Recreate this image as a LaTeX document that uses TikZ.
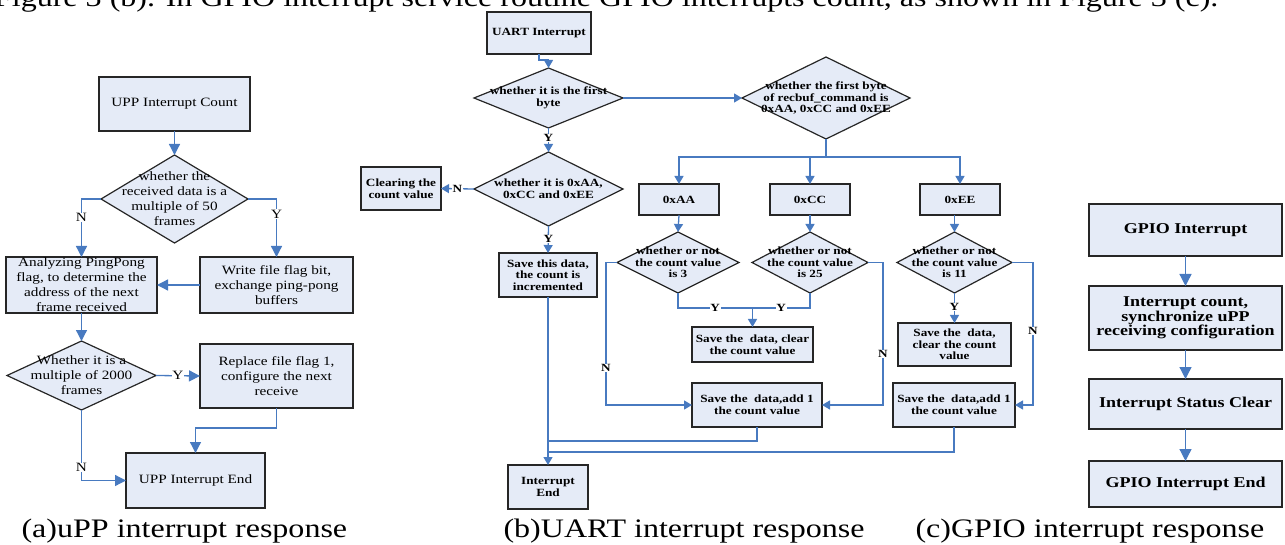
\documentclass[tikz,border=0pt]{standalone}
\usepackage{fontspec}
\setmainfont{Liberation Serif}[FakeStretch=1.2]
\usepackage{tikz}
\usetikzlibrary{arrows.meta, shapes.geometric, calc}

\definecolor{boxfill}{RGB}{229,235,247}
\definecolor{linkblue}{RGB}{72,122,192}

\begin{document}
\begin{tikzpicture}[x=1pt, y=-1pt,
    blk/.style={draw=black!85, line width=1.2pt, fill=boxfill, align=center, inner sep=0pt, outer sep=0pt},
    dec/.style={blk, diamond, inner xsep=-90pt, inner ysep=-45pt},
    sz/.style 2 args={minimum width=#1, minimum height=#2},
    fa/.style={font=\fontsize{12.7}{15}\selectfont},
    fb/.style={font=\fontsize{11}{11.7}\selectfont\bfseries},
    fc/.style={font=\fontsize{15}{14.5}\selectfont\bfseries},
    link/.style={draw=linkblue, line width=1.3pt},
    tipa/.style={-{Triangle[length=11pt,width=11pt]}},
    tipb/.style={-{Triangle[length=8pt,width=9pt]}},
    tipc/.style={-{Triangle[length=12pt,width=12pt]}},
    yn/.style={fill=white, inner sep=0.5pt}]
  \useasboundingbox (0,0) rectangle (1285,545);

  % running text above the figure
  \node[anchor=base east, font=\fontsize{26.7}{30}\selectfont] (topline) at (1222,7)
    {Figure 3 (b). In GPIO interrupt service routine GPIO interrupts count, as shown in Figure 3 (c).};

  % (a) uPP
  \node[blk, fa, sz={151}{54}] (c1) at (174.5,104) {UPP Interrupt Count};
  \node[dec, fa, sz={147}{88}] (q1) at (174.5,199) {whether the\\received data is a\\multiple of 50\\frames};
  \node[blk, fa, sz={151}{56}] (pp) at (81.5,285) {Analyzing PingPong\\flag, to determine the\\address of the next\\frame received};
  \node[blk, fa, sz={153}{56}] (wf) at (276.5,285) {Write file flag bit,\\exchange ping-pong\\buffers};
  \node[dec, fa, sz={149}{69}] (q2) at (81.5,375.5) {Whether it is a\\multiple of 2000\\frames};
  \node[blk, fa, sz={153}{64}] (rp) at (276.5,376) {Replace file flag 1,\\configure the next\\receive};
  \node[blk, fa, sz={139}{55}] (en) at (195.5,480.5) {UPP Interrupt End};
  \draw[link, tipa] (c1) -- (q1);
  \draw[link, tipa] (q1.west) -| node[yn, fa, pos=0.66] {N} (pp.north);
  \draw[link, tipa] (q1.east) -| node[yn, fa, pos=0.63] {Y} (wf.north);
  \draw[link, tipa] (wf.west) -- (pp.east);
  \draw[link, tipa] (pp.south) -- (q2.north);
  \draw[link, tipa] (q2.east) -- node[yn, fa] {Y} (rp.west);
  \draw[link, tipa] (rp.south) -- ++(0,20) -| (en.north);
  \draw[link, tipa] (q2.south) |- node[yn, fa, pos=0.41] {N} (en.west);

  % (b) UART
  \node[blk, fb, sz={104}{42}] (u0) at (539,33) {UART Interrupt};
  \node[dec, fb, sz={149}{60}] (p1) at (548.5,98) {whether it is the first\\byte};
  \node[dec, fb, sz={168}{82}] (p2) at (826,98) {whether the first byte\\of recbuf\_command is\\0xAA, 0xCC and 0xEE};
  \node[dec, fb, sz={149}{74}] (p3) at (548.5,189) {whether it is 0xAA,\\0xCC and 0xEE};
  \node[blk, fb, sz={80}{43}] (clr) at (401,188.5) {Clearing the\\count value};
  \node[blk, fb, sz={98}{44}] (sv) at (548,275) {Save this data,\\the count is\\incremented};
  \node[blk, fb, sz={80}{44}] (ie) at (548,487) {Interrupt\\End};
  \node[blk, fb, sz={80}{31}] (bAA) at (679,199.5) {0xAA};
  \node[blk, fb, sz={80}{31}] (bCC) at (810,199.5) {0xCC};
  \node[blk, fb, sz={80}{31}] (bEE) at (960,199.5) {0xEE};
  \node[dec, fb, sz={122}{61}] (dAA) at (678,262.5) {whether or not\\the count value\\is 3};
  \node[dec, fb, sz={116}{61}] (dCC) at (810,262.5) {whether or not\\the count value\\is 25};
  \node[dec, fb, sz={115}{61}] (dEE) at (954.5,262.5) {whether or not\\the count value\\is 11};
  \node[blk, fb, sz={121}{35}] (sAc) at (752.5,344.5) {Save the\ \ data, clear\\the count value};
  \node[blk, fb, sz={130}{44}] (sAa) at (757,405) {Save the\ \ data,add 1\\the count value};
  \node[blk, fb, sz={113}{43}] (sEc) at (954.5,344.5) {Save the\ \ data,\\clear the count\\value};
  \node[blk, fb, sz={122}{44}] (sEa) at (954,405) {Save the\ \ data,add 1\\the count value};
  \coordinate (yj) at (752.5,308);
  \coordinate (j1) at (548,441);
  \coordinate (j2) at (548,452);
  % first byte check
  \draw[link, tipb] (u0.south) -- ++(0,6) -| (p1.north);
  \draw[link, tipb] (p1.east) -- (p2.west);
  \draw[link, tipb] (p1.south) -- node[yn, fb, pos=0.42] {Y} (p3.north);
  \draw[link, tipb] (p3.west) -- node[yn, fb] {N} (clr.east);
  \draw[link, tipb] (p3.south) -- node[yn, fb, pos=0.48] {Y} (sv.north);
  \draw[link, tipb] (sv.south) -- (ie.north);
  % command branches
  \draw[link] (p2.south) -- ++(0,18) coordinate (br);
  \draw[link, tipb] (br) -| (bAA.north);
  \draw[link, tipb] (br) -| (bCC.north);
  \draw[link, tipb] (br) -| (bEE.north);
  \draw[link, tipb] (bAA.south) -- (dAA.north);
  \draw[link, tipb] (bCC.south) -- (dCC.north);
  \draw[link, tipb] (dEE.north |- bEE.south) -- (dEE.north);
  % Y lines
  \draw[link] (dAA.south) |- node[yn, fb, pos=0.75] {Y} (yj);
  \draw[link] (dCC.south) |- node[yn, fb, pos=0.75] {Y} (yj);
  \draw[link, tipb] (yj) -- (sAc.north);
  \draw[link, tipb] (dEE.south) -- node[yn, fb, pos=0.47] {Y} (sEc.north);
  % N lines
  \draw[link, tipb] (dAA.west) -- ++(-11,0) |- node[yn, fb, pos=0.37] {N} (sAa.west);
  \draw[link, tipb] (dCC.east) -- ++(15,0) |- node[yn, fb, pos=0.32] {N} (sAa.east);
  \draw[link, tipb] (dEE.east) -- ++(21,0) |- node[yn, fb, pos=0.24] {N} (sEa.east);
  % back to the end
  \draw[link] (sAa.south) |- (j1);
  \draw[link] (sEa.south) |- (j2);

  % (c) GPIO
  \node[blk, fc, sz={193}{52}] (g1) at (1185.5,230) {GPIO Interrupt};
  \node[blk, fc, sz={193}{64}] (g2) at (1185.5,318) {Interrupt count,\\synchronize uPP\\receiving configuration};
  \node[blk, fc, sz={193}{50}] (g3) at (1185.5,404) {Interrupt Status Clear};
  \node[blk, fc, sz={193}{46}] (g4) at (1185.5,484) {GPIO Interrupt End};
  \draw[link, tipc] (g1) -- (g2);
  \draw[link, tipc] (g2) -- (g3);
  \draw[link, tipc] (g3) -- (g4);

  % captions
  \node[anchor=base west, font=\fontsize{26.7}{30}\selectfont] (capa) at (18,537) {(a)uPP interrupt response};
  \node[anchor=base west, font=\fontsize{26.7}{30}\selectfont] (capb) at (500,537) {(b)UART interrupt response};
  \node[anchor=base west, font=\fontsize{26.7}{30}\selectfont] (capc) at (912,537) {(c)GPIO interrupt response};
\end{tikzpicture}
\end{document}
